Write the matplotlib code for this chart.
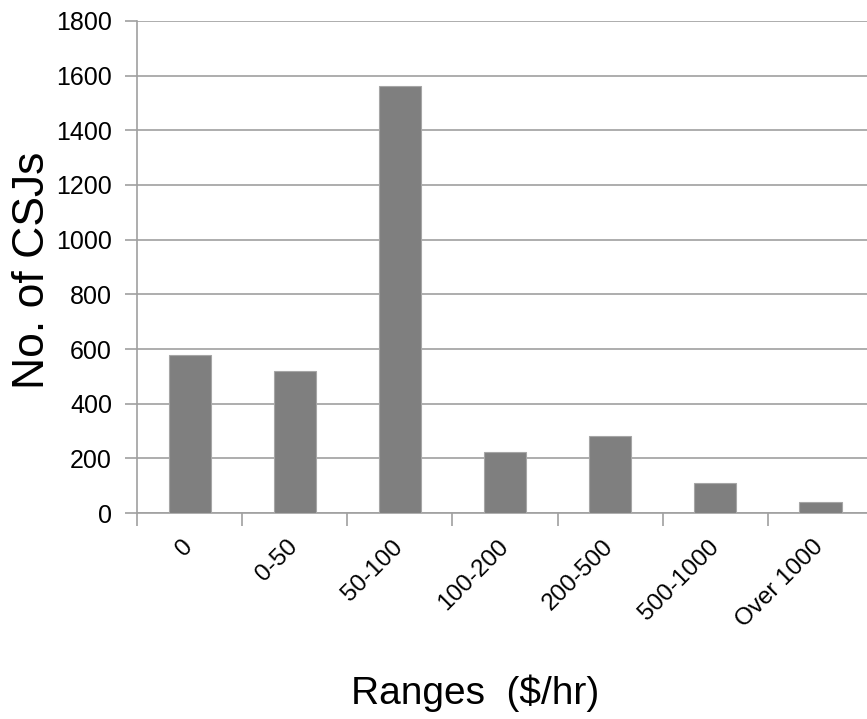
import matplotlib.pyplot as plt

# data
rangos = ["0", "0-50", "50-100", "100-200", "200-500", "500-1000", "Over 1000"]
num_csjs = [578, 521, 1564, 223, 280, 110, 39]

plt.rcParams['font.family'] = ['Liberation Sans', 'DejaVu Sans']

fig = plt.figure(figsize=(8.67, 7.19), dpi=100)
ax = fig.add_axes([0.158, 0.2865, 0.849, 0.6843])

x = range(len(rangos))
ax.bar(x, num_csjs, width=0.4, color="#7f7f7f", edgecolor="#a6a6a6", linewidth=0.8, zorder=3)

ax.set_xlim(-0.5, len(rangos) - 0.5)
ax.set_ylim(0, 1800)
ax.set_yticks(range(0, 1801, 200))
ax.yaxis.grid(True, color="#a0a0a0", linewidth=1.2, zorder=0)

# category boundary ticks on x, labels at category centres
ax.set_xticks([i - 0.5 for i in range(len(rangos))])
ax.set_xticklabels([])
ax.set_xticks(list(x), minor=True)
ax.set_xticklabels(rangos, minor=True, rotation=45, ha="right", va="center",
                   rotation_mode="anchor", fontsize=17.5)
ax.tick_params(axis="x", which="minor", length=0, pad=22)
ax.tick_params(axis="x", which="major", length=9, color="#a0a0a0", width=1.2)
ax.tick_params(axis="y", length=9, color="#a0a0a0", width=1.2, labelsize=18, pad=9)

for s in ["top", "right"]:
    ax.spines[s].set_visible(False)
for s in ["left", "bottom"]:
    ax.spines[s].set_color("#a0a0a0")
    ax.spines[s].set_linewidth(1.2)

fig.text(0.038, 0.6245, "No. of CSJs", fontsize=32, rotation=90, ha="center", va="center")
fig.text(0.548, 0.036, "Ranges  ($/hr)", fontsize=28, ha="center", va="center")

fig.savefig("out.png", dpi=100)
